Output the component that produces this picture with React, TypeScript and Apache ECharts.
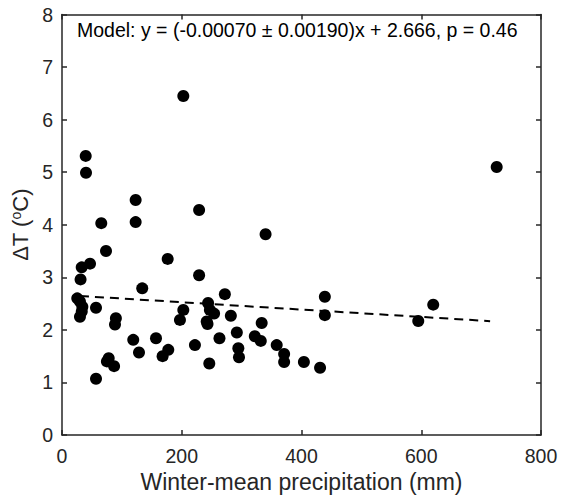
import React, { useEffect, useRef } from "react";
import * as echarts from "echarts";

const precip: number[] = [
  39.6, 40.1, 65.6, 123, 123, 229, 73.5, 176.5, 32.9, 46.8, 31, 229, 25.5, 30, 34, 33, 30, 56.8, 90, 88.5,
  134, 119, 128.6, 157, 168, 177.5, 78, 75, 87, 56.8, 202.6, 197, 222, 244, 247, 254, 241.7, 243, 246, 263,
  272, 282, 333.5, 292, 322, 332, 294.5, 295.6, 358.6, 371, 371, 404, 431, 439, 439, 595, 620, 726, 202.6, 340,
];
const deltaT: number[] = [
  5.31, 4.99, 4.03, 4.47, 4.05, 4.28, 3.5, 3.35, 3.19, 3.26, 2.96, 3.04, 2.6, 2.54, 2.44, 2.35, 2.25, 2.42, 2.22, 2.1,
  2.79, 1.81, 1.57, 1.84, 1.5, 1.62, 1.46, 1.4, 1.31, 1.07, 2.38, 2.19, 1.71, 2.51, 2.38, 2.31, 2.16, 2.11, 1.36, 1.84,
  2.68, 2.27, 2.13, 1.95, 1.88, 1.79, 1.65, 1.48, 1.71, 1.54, 1.39, 1.39, 1.28, 2.63, 2.28, 2.17, 2.48, 5.1, 6.45, 3.82,
];
const fitX: number[] = [30, 715];
const fitY: number[] = [2.645, 2.166];
const xTicks: number[] = [0, 200, 400, 600, 800];
const yTicks: number[] = [0, 1, 2, 3, 4, 5, 6, 7, 8];
const modelText = "Model: y = (-0.00070 \u00B1 0.00190)x + 2.666, p = 0.46";
const xTitle = "Winter-mean precipitation (mm)";

const FONT = "Liberation Sans, Arial, sans-serif";
const INK = "#262626";

export default function App() {
  const ref = useRef<HTMLDivElement>(null);
  useEffect(() => {
    if (!ref.current) return;
    const chart = echarts.init(ref.current, null, { renderer: "svg" });
    const axisLine = { show: true, onZero: false, lineStyle: { color: INK, width: 1.5 } };
    const axisTick = { show: true, inside: true, length: 5, lineStyle: { color: INK, width: 1.5 } };
    const points = precip.map((x, i) => [x, deltaT[i]]);
    chart.setOption({
      animation: false,
      backgroundColor: "#ffffff",
      grid: { left: 62, right: 22, top: 14.5, bottom: 67, containLabel: false },
      xAxis: [
        {
          type: "value",
          min: xTicks[0],
          max: xTicks[xTicks.length - 1],
          interval: 200,
          axisLine,
          axisTick,
          splitLine: { show: false },
          axisLabel: { color: INK, fontSize: 19.5, fontFamily: FONT, margin: 11 },
          name: xTitle,
          nameLocation: "middle",
          nameGap: 35,
          nameTextStyle: { color: INK, fontSize: 23, fontFamily: FONT },
        },
        {
          type: "value",
          position: "top",
          min: xTicks[0],
          max: xTicks[xTicks.length - 1],
          interval: 200,
          axisLine,
          axisTick,
          axisLabel: { show: false },
          splitLine: { show: false },
        },
      ],
      yAxis: [
        {
          type: "value",
          min: yTicks[0],
          max: yTicks[yTicks.length - 1],
          interval: 1,
          axisLine,
          axisTick,
          splitLine: { show: false },
          axisLabel: { color: INK, fontSize: 19.5, fontFamily: FONT, margin: 9 },
          name: "{n|\u0394T (}{s|o}{n|C)}",
          nameLocation: "middle",
          nameGap: 26,
          nameRotate: 90,
          nameTextStyle: {
            rich: {
              n: { color: INK, fontSize: 22, fontFamily: FONT },
              s: { color: INK, fontSize: 14, fontFamily: FONT, verticalAlign: "top", padding: [0, 0, 9, 0] },
            },
          },
        },
        {
          type: "value",
          position: "right",
          min: yTicks[0],
          max: yTicks[yTicks.length - 1],
          interval: 1,
          axisLine,
          axisTick,
          axisLabel: { show: false },
          splitLine: { show: false },
        },
      ],
      graphic: [
        {
          type: "text",
          left: 77,
          top: 20,
          style: { text: modelText, fill: "#000000", fontSize: 19.5, fontFamily: FONT },
        },
      ],
      series: [
        {
          type: "scatter",
          data: points,
          symbol: "circle",
          symbolSize: 12,
          itemStyle: { color: "#000000", opacity: 1 },
          z: 3,
        },
        {
          type: "line",
          data: fitX.map((x, i) => [x, fitY[i]]),
          symbol: "none",
          lineStyle: { color: "#000000", width: 2, type: [9, 6] },
          z: 4,
        },
      ],
    });
    return () => chart.dispose();
  }, []);
  return <div ref={ref} style={{ position: "fixed", left: 0, top: 0, width: 563, height: 502 }} />;
}
